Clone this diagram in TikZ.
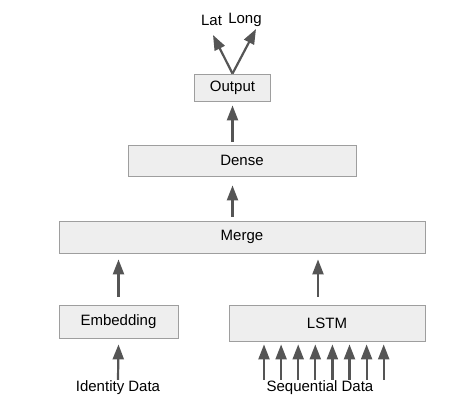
\documentclass[tikz,border=0pt]{standalone}
\usepackage{fontspec}
\setmainfont{Liberation Sans}
\usetikzlibrary{arrows.meta}
\definecolor{boxfill}{HTML}{EEEEEE}
\definecolor{boxline}{HTML}{9E9E9E}
\definecolor{arr}{HTML}{555555}
\begin{document}
\begin{tikzpicture}[x=1pt,y=-1pt,
  layer/.style={draw=boxline,fill=boxfill,line width=0.8pt,inner sep=0pt,font=\fontsize{15}{18}\selectfont},
  lbl/.style={inner sep=0pt,font=\fontsize{15}{18}\selectfont},
  flow/.style={draw=arr,line width=2.2pt,-{Triangle[width=11pt,length=15pt]}}]
\useasboundingbox (0,0) rectangle (456,416);
\node[layer,minimum width=76pt,minimum height=27pt] (out) at (232.5,87.5) {Output};
\node[layer,minimum width=228pt,minimum height=31pt] (dense) at (242,160.5) {Dense};
\node[layer,minimum width=366pt,minimum height=32pt] (merge) at (242,237) {Merge};
\node[layer,minimum width=119pt,minimum height=33pt] (emb) at (118.5,321.5) {Embedding};
\node[layer,minimum width=196pt,minimum height=36pt] (lstm) at (327,323) {LSTM};
\node[lbl] (lat) at (211.5,20) {Lat};
\node[lbl] (long) at (245,20) {Long};
\node[lbl] (idd) at (118,388) {Identity Data};
\node[lbl] (seq) at (320,388) {Sequential Data};
% arrows
\coordinate (latTip) at (213,35);
\coordinate (longTip) at (256,29);
\draw[flow] (out.north) -- (latTip);
\draw[flow] (out.north) -- (longTip);
\draw[flow] ([yshift=3pt]dense.north -| out.south) -- ([yshift=-4pt]out.south);
\draw[flow] ([yshift=4pt]merge.north -| out.south) -- ([yshift=-9pt]dense.south -| out.south);
\draw[flow] ([yshift=8pt]emb.north) -- ([yshift=-6pt]merge.south -| emb.north);
\draw[flow] ([yshift=8pt]lstm.north -| 318,0) -- ([yshift=-6pt]merge.south -| 318,0);
\draw[flow] ([yshift=1pt]idd.north) -- ([yshift=-6pt]emb.south);
\foreach \i in {0,...,7}{
  \draw[flow] ([yshift=1pt]seq.north -| 264+17.1*\i,0) -- ([yshift=-3pt]lstm.south -| 264+17.1*\i,0);
}
\end{tikzpicture}
\end{document}
